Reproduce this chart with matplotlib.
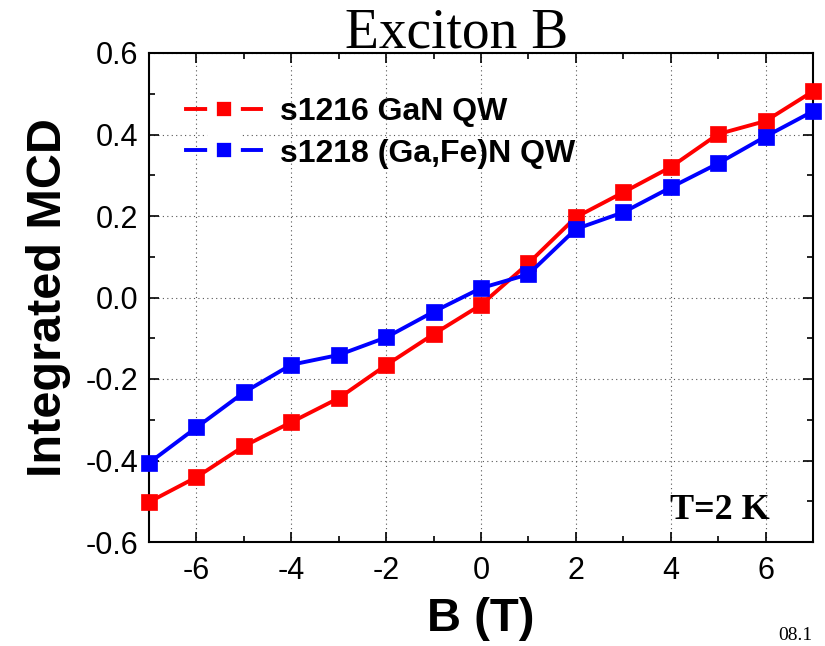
import numpy as np
import matplotlib
matplotlib.use("Agg")
import matplotlib.pyplot as plt
from matplotlib.lines import Line2D
from matplotlib.ticker import MultipleLocator


# ---------- data -----------------------------------------------------------
field = [-7, -6, -5, -4, -3, -2, -1, 0, 1, 2, 3, 4, 5, 6, 7]
mcd_gan = [-0.502, -0.441, -0.365, -0.306, -0.247, -0.166, -0.090, -0.018,
           0.084, 0.197, 0.258, 0.320, 0.401, 0.433, 0.506]
mcd_gafen = [-0.406, -0.319, -0.233, -0.165, -0.141, -0.098, -0.035, 0.023,
             0.057, 0.168, 0.209, 0.270, 0.329, 0.395, 0.457]
labels = ["s1216 GaN QW", "s1218 (Ga,Fe)N QW"]
colors = ["#ff0000", "#0000ff"]

SANS = "Liberation Sans"
SERIF = "Liberation Serif"
plt.rcParams["font.family"] = SANS
plt.rcParams["axes.unicode_minus"] = False


# ---------- figure ---------------------------------------------------------
fig = plt.figure(figsize=(8.25, 6.46), dpi=100)
ax = fig.add_axes([149 / 825, 1 - 542 / 646, 664 / 825, 489 / 646])

for y, c in zip([mcd_gan, mcd_gafen], colors):
    ax.plot(field, y, color=c, lw=2.8, marker="s", ms=11,
            mec=c, mew=0.5, clip_on=False, zorder=3)

ax.set_xlim(-7, 7)
ax.set_ylim(-0.6, 0.6)
ax.xaxis.set_major_locator(MultipleLocator(2))
ax.xaxis.set_minor_locator(MultipleLocator(1))
ax.yaxis.set_minor_locator(MultipleLocator(0.1))
yt = np.arange(-0.6, 0.61, 0.2)
ax.set_yticks(yt)
ax.set_yticklabels([f"{v:.1f}".replace("-0.0", "0.0") for v in yt])

ax.tick_params(which="both", direction="in", top=True, right=True,
               labelsize=22, width=1.2)
ax.tick_params(which="major", length=7)
ax.tick_params(axis="x", which="major", pad=10)
ax.tick_params(axis="y", which="major", pad=8)
ax.tick_params(which="minor", length=4)
for s in ax.spines.values():
    s.set_linewidth(1.5)

ax.grid(True, which="major", ls=(0, (1, 3)), color="#555555", lw=0.8)

ax.set_xlabel("B (T)", fontsize=34, fontweight="bold", labelpad=8)
ax.set_ylabel("Integrated MCD", fontsize=35, fontweight="bold", labelpad=10)

# legend: line broken around the square, as in the original
handles = [Line2D([], [], color=c, lw=2.8, marker="s", ms=17,
                  mfc=c, mec="white", mew=7) for c in colors]
ax.legend(handles, labels, loc="upper left", bbox_to_anchor=(0.056, 0.91),
          frameon=False, prop={"family": SANS, "weight": "bold", "size": 23},
          handlelength=2.35, handletextpad=0.6, labelspacing=0.36,
          borderpad=0, borderaxespad=0)

ax.text(0.86, 0.065, "T=2 K", transform=ax.transAxes, ha="center",
        va="center", family=SERIF, fontweight="bold", fontsize=26)

fig.text(457 / 825, 1 - 47 / 646, "Exciton B", ha="center", va="baseline",
         family=SERIF, fontsize=40)
fig.text(778 / 825, 2 / 646, "08.1", ha="left", va="bottom",
         family=SERIF, fontsize=14)

fig.savefig("out.png", dpi=100)
